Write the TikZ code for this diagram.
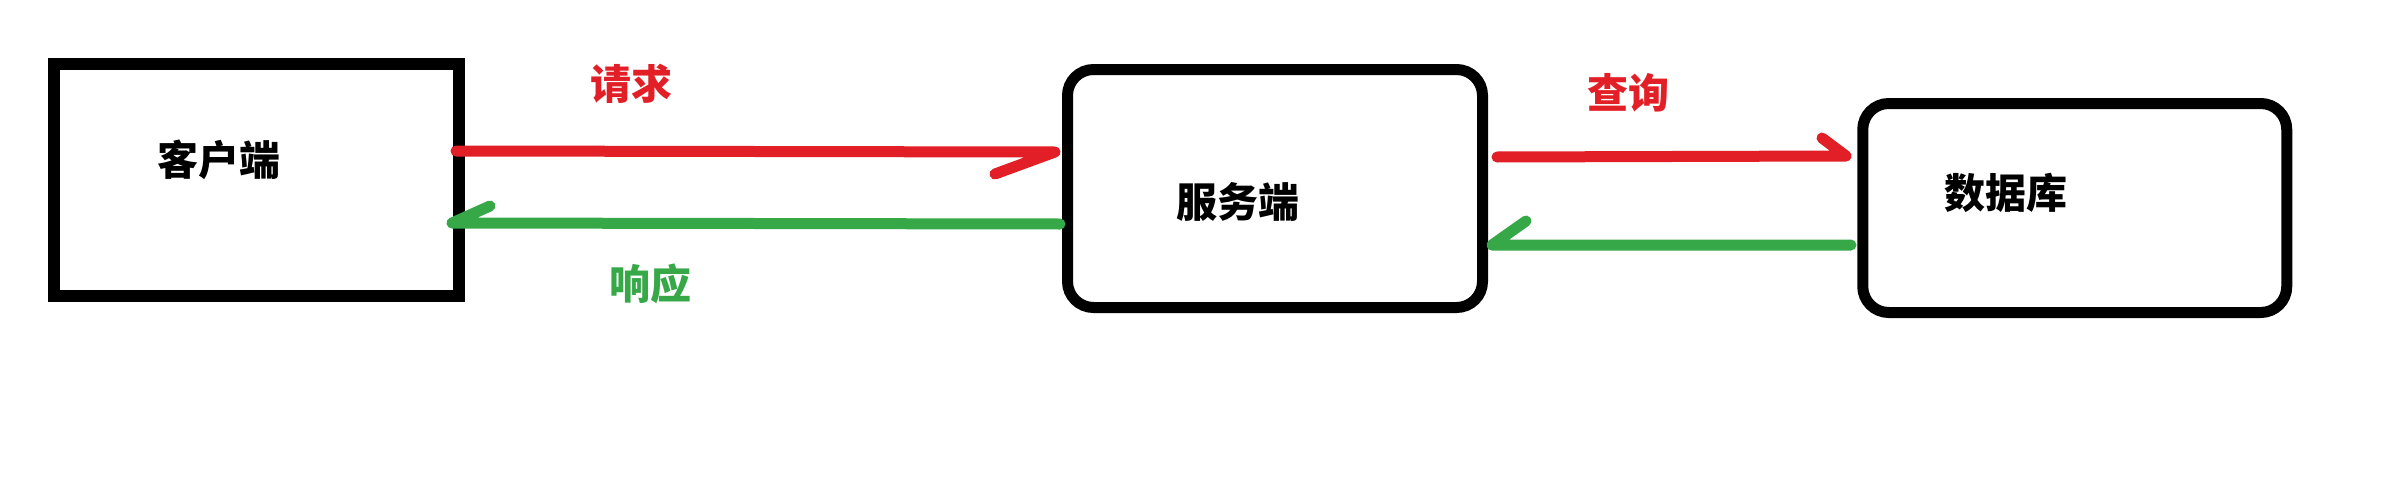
\documentclass[tikz,border=0pt]{standalone}
\usepackage{fontspec}
\newfontfamily\cjk{Noto Sans CJK SC}
\definecolor{reqred}{RGB}{226,30,38}
\definecolor{resgreen}{RGB}{55,168,72}
\begin{document}
\begin{tikzpicture}[x=0.5pt,y=-0.5pt,
  sqbox/.style={draw=black,line width=6pt,inner sep=0pt,fill=white},
  rbox/.style={draw=black,line width=5.5pt,rounded corners=13pt,inner sep=0pt,fill=white},
  lbl/.style={inner sep=0pt,font=\cjk\bfseries\fontsize{20.5}{24}\selectfont},
  redarrow/.style={draw=reqred,line width=5.5pt,line cap=round,line join=round},
  greenarrow/.style={draw=resgreen,line width=5.5pt,line cap=round,line join=round}]
\useasboundingbox[fill=white] (0,0) rectangle (2388,498);
% boxes
\node[sqbox,minimum width=202.5pt,minimum height=116pt] (client) at (256.5,180) {};
\node[rbox,minimum width=207.5pt,minimum height=119pt] (server) at (1275,188.5) {};
\node[rbox,minimum width=212pt,minimum height=104.5pt] (db) at (2074.75,208) {};
% box texts
\node[lbl] (clienttxt) at (219,160) {客户端};
\node[lbl] (servertxt) at (1238,202) {服务端};
\node[lbl] (dbtxt) at (2006,193) {数据库};
% connector labels
\node[lbl,text=reqred] (reqlbl) at (631,84) {请求};
\node[lbl,text=resgreen] (reslbl) at (650,284) {响应};
\node[lbl,text=reqred] (qlbl) at (1628,93) {查询};
% connector endpoints
\coordinate (reqS) at (456,151);
\coordinate (reqT) at (1055,152);
\coordinate (reqH) at (995,174);
\coordinate (resS) at (1060,224);
\coordinate (resT) at (452,223);
\coordinate (resH) at (490,206);
\coordinate (qS) at (1497,157);
\coordinate (qT) at (1846,156);
\coordinate (qH) at (1822,138);
\coordinate (dS) at (1851,245);
\coordinate (dT) at (1492,245);
\coordinate (dH) at (1526,221);
% connectors
\draw[redarrow] (reqS) -- (reqT) -- (reqH);
\draw[greenarrow] (resS) -- (resT) -- (resH);
\draw[redarrow] (qS) -- (qT) -- (qH);
\draw[greenarrow] (dS) -- (dT) -- (dH);
\end{tikzpicture}
\end{document}
